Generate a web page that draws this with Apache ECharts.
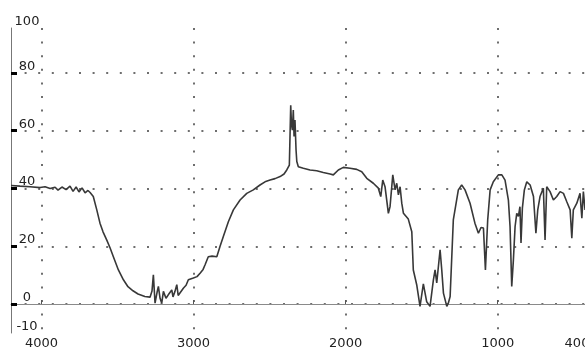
<!DOCTYPE html>
<html>
<head>
<meta charset="utf-8">
<script src="https://cdn.jsdelivr.net/npm/echarts@6/dist/echarts.min.js"></script>
<style>
  html, body { margin: 0; padding: 0; background: #fff; }
  #chart { width: 585px; height: 347px; }
</style>
</head>
<body>
<div id="chart"></div>
<script>
// wavenumbers (cm-1) and transmittance
const wavenumbers = [
  4200, 4141, 4075, 4009, 3976, 3943, 3910, 3891, 3865, 3838, 3812, 3792, 3772, 3753, 3733, 3713, 3694, 3680,
  3659, 3636, 3615, 3595, 3571, 3549, 3527, 3494, 3461, 3431, 3398, 3365, 3320, 3286, 3273, 3264, 3253, 3240,
  3231, 3220, 3209, 3198, 3181, 3166, 3143, 3135, 3122, 3110, 3101, 3089, 3067, 3049, 3034, 3001, 2977, 2957,
  2937, 2924, 2903, 2878, 2847, 2826, 2804, 2771, 2738, 2694, 2650, 2607, 2563, 2530, 2497, 2464, 2431, 2405,
  2387, 2370, 2361, 2356, 2350, 2344, 2339, 2333, 2326, 2321, 2311, 2278, 2234, 2190, 2147, 2102, 2081, 2048,
  2015, 1971, 1927, 1894, 1861, 1818, 1785, 1769, 1756, 1741, 1719, 1708, 1690, 1675, 1664, 1653, 1642, 1631,
  1620, 1609, 1588, 1565, 1555, 1532, 1511, 1489, 1467, 1445, 1423, 1412, 1401, 1379, 1368, 1357, 1335, 1325,
  1313, 1292, 1259, 1237, 1215, 1182, 1150, 1127, 1110, 1094, 1081, 1066, 1050, 1029, 996, 973, 952, 930,
  919, 908, 897, 886, 875, 864, 854, 847, 838, 825, 809, 787, 765, 749, 737, 722, 700, 689,
  678, 656, 634, 612, 590, 568, 546, 524, 513, 503, 480, 459, 447, 437, 426, 400
];
const transmittance = [
  41.0, 40.8, 40.6, 40.3, 40.6, 40.0, 40.4, 39.4, 40.5, 39.6, 40.8, 39.0, 40.5, 38.8, 40.2, 38.5, 39.3, 38.6,
  37.2, 32.6, 28.0, 25.0, 22.2, 19.5, 16.4, 11.8, 8.4, 6.0, 4.6, 3.5, 2.6, 2.4, 4.5, 10.1, 0.3, 4.0,
  6.1, 2.0, 0.3, 4.4, 2.0, 3.2, 4.9, 2.5, 4.4, 6.7, 3.0, 2.6, 5.5, 6.5, 8.4, 9.0, 9.5, 10.7,
  12.0, 13.6, 16.4, 16.6, 16.4, 19.9, 23.4, 28.5, 32.6, 36.0, 38.3, 39.5, 41.2, 42.3, 42.9, 43.4, 44.1, 45.0,
  46.4, 48.1, 68.8, 62.0, 60.2, 67.1, 58.0, 63.7, 53.3, 49.3, 47.5, 47.0, 46.4, 46.1, 45.5, 45.0, 44.7, 46.4,
  47.3, 47.0, 46.6, 45.8, 43.5, 41.8, 40.1, 37.2, 42.9, 40.6, 31.4, 33.7, 44.7, 39.5, 41.8, 37.8, 40.6, 34.9,
  31.4, 30.8, 29.4, 25.0, 11.8, 6.5, -0.8, 7.0, 0.8, -0.8, 8.4, 11.8, 7.3, 18.8, 11.8, 3.8, -0.8, 0.3,
  2.6, 29.1, 39.5, 41.2, 39.5, 34.9, 28.0, 24.5, 26.5, 26.3, 11.8, 29.1, 39.5, 42.3, 44.7, 44.7, 42.9, 36.0,
  26.8, 6.1, 15.3, 26.8, 31.4, 30.3, 33.7, 21.1, 33.2, 39.5, 42.3, 41.2, 37.2, 24.5, 32.6, 37.2, 40.1, 22.2,
  40.6, 38.9, 36.0, 37.2, 38.9, 38.3, 35.4, 32.6, 22.8, 32.6, 34.9, 38.3, 29.7, 38.9, 32.6, 35.0
];

// axis ticks and labels
const xTicks = [4000, 3000, 2000, 1000];
const xLabels = [4000, 3000, 2000, 1000, 400];
const yTicks = [0, 20, 40, 60, 80];
const yLabels = [-10, 0, 20, 40, 60, 80];
const yTopLabel = '100';
const Y_MIN = -10;
const Y_MAX = 95.5;
const X_MIN = 400;

const fontFamily = 'DejaVu Sans';

// small grey dots, darker than they look since antialiasing thins them out
function dottedStyle() {
    return { color: '#6e6e6e', width: 2, type: [2, 11.6] };
}

var dom = document.getElementById('chart');
var myChart = echarts.init(dom, null, { renderer: 'canvas' });

var option = {
    animation: false,
    backgroundColor: '#fff',
    grid: { left: 11, right: -4, top: 28, bottom: 14, outerBoundsMode: 'none' },
    xAxis: {
        type: 'value',
        min: X_MIN,
        max: 4200,
        inverse: true,
        axisLine: { show: true, lineStyle: { color: '#8a8a8a', width: 1 } },
        axisTick: {
            show: true,
            inside: true,
            length: 4,
            customValues: xTicks,
            lineStyle: { color: '#555', width: 1 }
        },
        axisLabel: {
            customValues: xLabels,
            // the last label sits against the right edge, as in the source
            formatter: v => v === X_MIN ? '{edge|' + v + '}' : String(v),
            rich: { edge: { padding: [0, 24, 0, 0] } },
            margin: 4,
            fontFamily: fontFamily,
            fontSize: 13,
            color: '#222'
        },
        splitLine: { show: true, lineStyle: dottedStyle() }
    },
    yAxis: {
        type: 'value',
        min: Y_MIN,
        max: Y_MAX,
        axisLine: { show: true, lineStyle: { color: '#777', width: 1 } },
        axisTick: {
            show: true,
            inside: true,
            length: 6,
            customValues: yTicks,
            lineStyle: { color: '#000', width: 3 }
        },
        axisLabel: {
            inside: true,
            customValues: yLabels.concat([Y_MAX]),
            formatter: function (v) { return v === Y_MAX ? yTopLabel : String(v); },
            margin: 16,
            align: 'center',
            verticalAlign: 'bottom',
            fontFamily: fontFamily,
            fontSize: 13,
            color: '#222'
        },
        splitLine: { show: true, lineStyle: dottedStyle() }
    },
    series: [
        {
            type: 'line',
            data: wavenumbers.map((w, i) => [w, transmittance[i]]),
            showSymbol: false,
            lineStyle: { color: '#383838', width: 1.6 }
        }
    ]
};

myChart.setOption(option);
window.addEventListener('resize', myChart.resize);
</script>
</body>
</html>
